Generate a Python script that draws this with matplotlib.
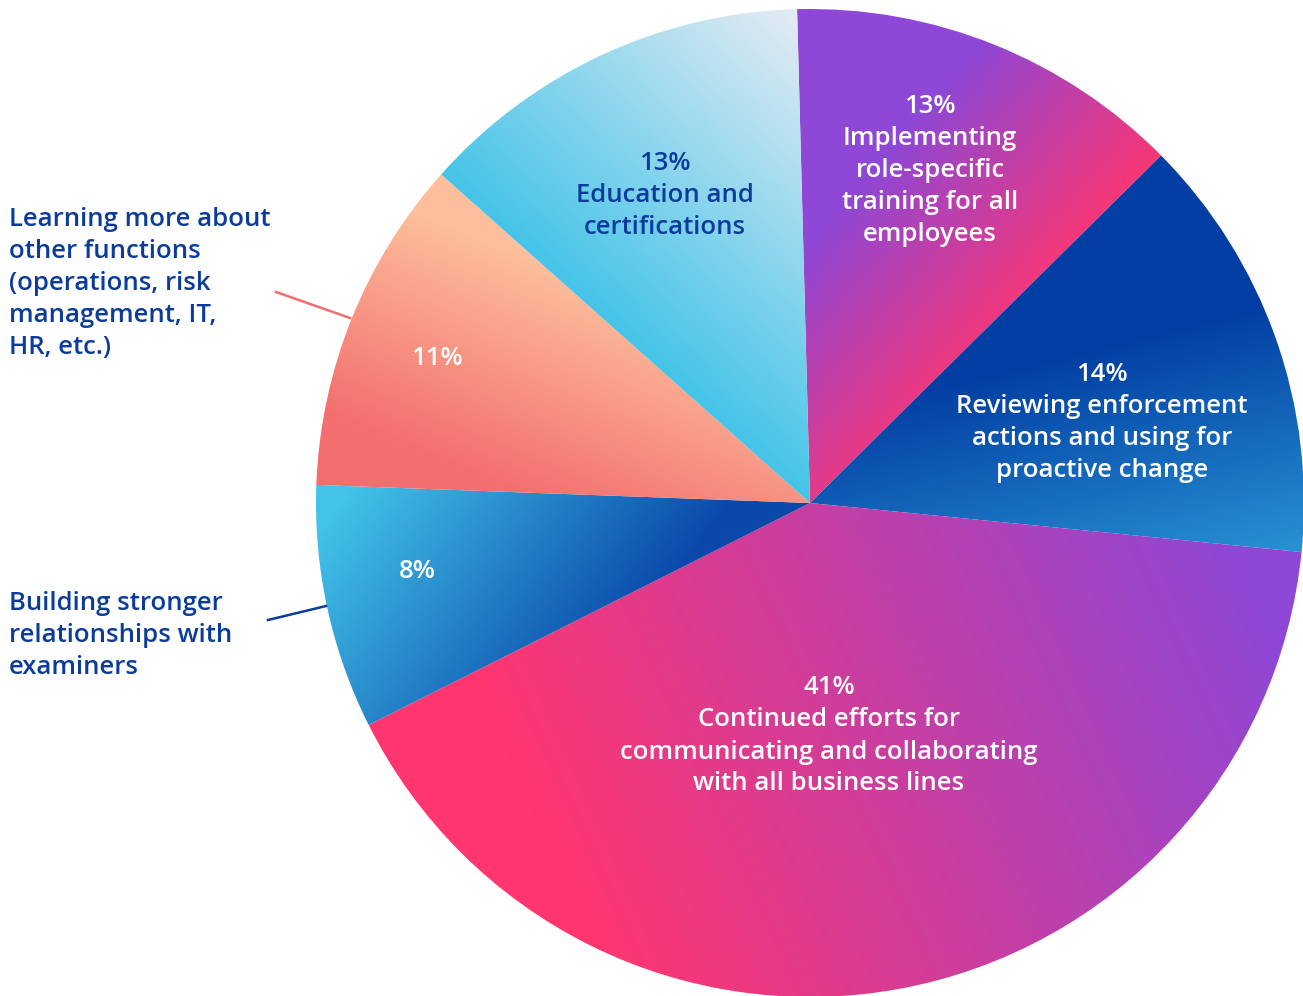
import numpy as np
import matplotlib
matplotlib.use("Agg")
import matplotlib.pyplot as plt
from matplotlib.colors import LinearSegmentedColormap

# ── Data (clockwise from the top) ─────────────────────────────────────────────
labels = [
    "Implementing\nrole-specific\ntraining for all\nemployees",
    "Reviewing enforcement\nactions and using for\nproactive change",
    "Continued efforts for\ncommunicating and collaborating\nwith all business lines",
    "Building stronger\nrelationships with\nexaminers",
    "Learning more about\nother functions\n(operations, risk\nmanagement, IT,\nHR, etc.)",
    "Education and\ncertifications",
]
shares = [13, 14, 41, 8, 11, 13]

# ── Styling ───────────────────────────────────────────────────────────────────
W, H = 1303, 996
CX, CY, R = 810, 503, 494          # pie centre / radius in pixels
NAVY = "#0B3C9C"
FONT = "Open Sans"
FS = 18.5
LINE = 32                           # pixel line pitch

# gradient (start px, end px, start colour, end colour) per wedge
GRADS = [
    ((940, 90), (1110, 235), "#8E47D6", "#FF3670"),
    ((1200, 320), (1265, 585), "#023EA3", "#2B9AD8"),
    ((560, 880), (1250, 570), "#FF3670", "#8E47D6"),
    ((350, 490), (600, 680), "#42C3E8", "#0A48AA"),
    ((420, 455), (505, 250), "#F36E6E", "#FDBE9C"),
    ((560, 290), (805, 15), "#42C3E8", "#E6ECF3"),
]


def px(x, y):
    """pixel position -> data coordinates (pie radius = 1)"""
    return (x - CX) / R, (CY - y) / R


fig = plt.figure(figsize=(W / 100, H / 100), dpi=100)
ax = fig.add_axes([0, 0, 1, 1])

wedges, _ = ax.pie(shares, startangle=91.5, counterclock=False, radius=1,
                   wedgeprops=dict(linewidth=0, facecolor="none"))

# linear gradient fill for each wedge, clipped to its shape
grid = np.linspace(-1.02, 1.02, 900)
X, Y = np.meshgrid(grid, grid)
for wedge, (p0, p1, c0, c1) in zip(wedges, GRADS):
    x0, y0 = px(*p0)
    x1, y1 = px(*p1)
    dx, dy = x1 - x0, y1 - y0
    t = np.clip(((X - x0) * dx + (Y - y0) * dy) / (dx * dx + dy * dy), 0, 1)
    cmap = LinearSegmentedColormap.from_list("g", [c0, c1])
    im = ax.imshow(t, extent=(-1.02, 1.02, -1.02, 1.02), origin="lower",
                   cmap=cmap, vmin=0, vmax=1, interpolation="bilinear", zorder=1)
    im.set_clip_path(wedge)


def block(x, y, lines, color, ha="center"):
    for i, s in enumerate(lines):
        ax.text(*px(x, y + i * LINE), s, ha=ha, va="center", color=color,
                fontsize=FS, family=FONT, fontweight="semibold", zorder=5)


# labels inside the wedges: (x, first-line y, colour)
inner = {
    0: (930, 106, "white"),
    1: (1102, 374, "white"),
    2: (829, 688, "white"),
    5: (665, 163, NAVY),
}
for i, (x, y, col) in inner.items():
    block(x, y, [f"{shares[i]}%"] + labels[i].split("\n"), col)

# small wedges: percentage inside, description outside with a leader line
block(437, 358, [f"{shares[4]}%"], "white")
block(417, 571, [f"{shares[3]}%"], "white")
block(9, 219, labels[4].split("\n"), NAVY, ha="left")
block(9, 603, labels[3].split("\n"), NAVY, ha="left")

ax.plot(*zip(px(276, 292), px(350, 318)), color="#F26D6D", lw=1.8, zorder=4)
ax.plot(*zip(px(268, 620), px(326, 606)), color=NAVY, lw=1.8, zorder=4)

ax.set_xlim(px(0, 0)[0], px(W, 0)[0])
ax.set_ylim(px(0, H)[1], px(0, 0)[1])
ax.set_aspect("equal")
ax.axis("off")

fig.savefig("out.png", dpi=100, facecolor="white")
